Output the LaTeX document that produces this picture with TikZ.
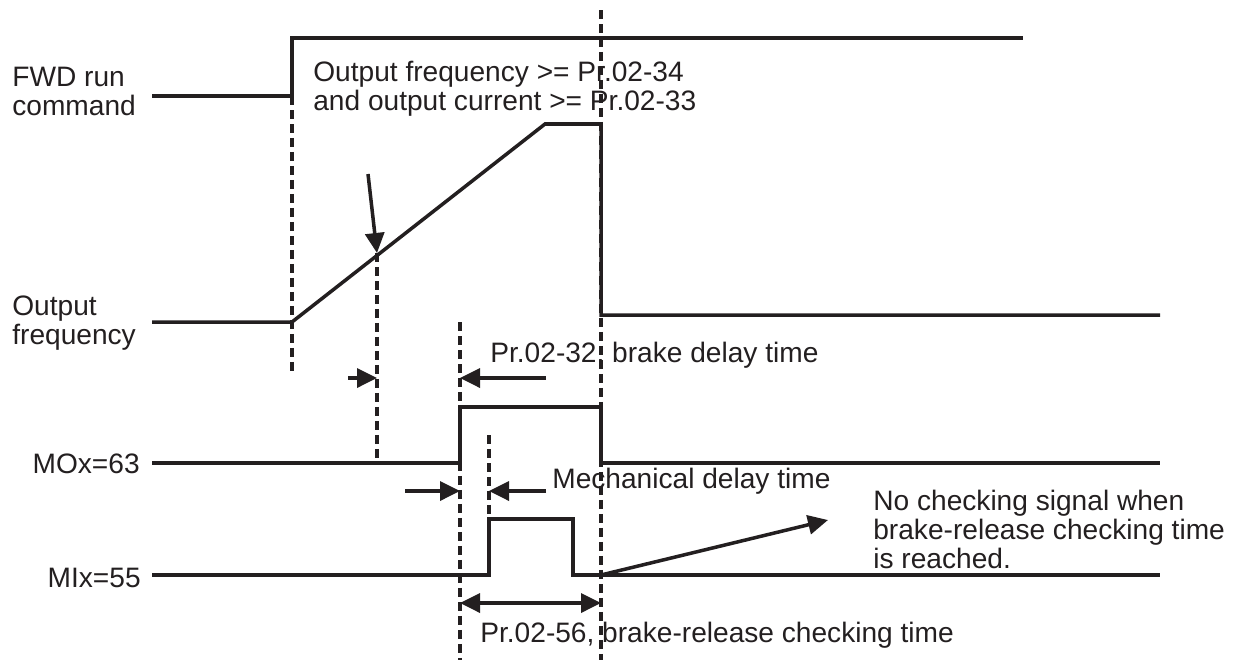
\documentclass[tikz,border=0pt]{standalone}
\usepackage{fontspec}
\setmainfont{Liberation Sans}
\usetikzlibrary{arrows.meta,positioning}
\definecolor{ink}{HTML}{231F20}
\tikzset{>={Triangle[length=.4cm,width=.38cm]},
  every node/.style={font=\fontsize{16}{16.5}\selectfont,text=ink,inner sep=0pt},
  wave/.style={draw=ink,line width=2pt,line join=miter},
  guide/.style={draw=ink,line width=2pt,dash pattern=on .18cm off .1cm},
  dim/.style={->,draw=ink,fill=ink,line width=2pt},
  lbl/.style={anchor=base west,align=left},
  sig/.style={anchor=base east}}

\begin{document}
\begin{tikzpicture}[x=.02cm,y=-.02cm]
\useasboundingbox (0,0) rectangle (1256,660);
% signal names (multi-line: last baseline)
\node[lbl] (fwd) at (12,115) {FWD run\\command};
\node[lbl] (fout) at (12,344) {Output\\frequency};
\node[sig] (mo) at (140,473) {MOx=63};
\node[sig] (mi) at (141,587) {MIx=55};
% waveforms
\draw[wave] (152,96) -- (292,96) -- (292,38) -- (1023,38);
\draw[wave] (152,322) -- (292,322) -- (545,124) -- (601,124) -- (601,315) -- (1160,315);
\draw[wave] (152,463) -- (460,463) -- (460,407) -- (601,407) -- (601,463) -- (1160,463);
\draw[wave] (152,575) -- (489,575) -- (489,519) -- (573,519) -- (573,575) -- (1160,575);
% time marks
\coordinate (run) at (292,96);\coordinate (runEnd) at (292,375);
\coordinate (stop) at (601,10);\coordinate (stopEnd) at (601,660);
\coordinate (hit) at (377,253);\coordinate (hitEnd) at (377,463);
\coordinate (brk) at (460,322);\coordinate (brkEnd) at (460,660);
\coordinate (mech) at (489,435);\coordinate (mechEnd) at (489,519);
\draw[guide] (run)--(runEnd);\draw[guide] (stop)--(stopEnd);\draw[guide] (hit)--(hitEnd);
\draw[guide] (brk)--(brkEnd);\draw[guide] (mech)--(mechEnd);
% arrows
\coordinate (hitTail) at (368,174);
\coordinate (a1) at (348,378);\coordinate (a1e) at (377,378);
\coordinate (a2) at (546,378);\coordinate (a2e) at (460,378);
\coordinate (a3) at (405,491);\coordinate (a3e) at (460,491);
\coordinate (a4) at (546,491);\coordinate (a4e) at (489,491);
\coordinate (a5) at (460,603);\coordinate (a5e) at (601,603);
\coordinate (miStop) at (601,575);\coordinate (nochk) at (828,520);
\draw[dim] (hitTail)--(hit);
\draw[dim] (a1)--(a1e);\draw[dim] (a2)--(a2e);
\draw[dim] (a3)--(a3e);\draw[dim] (a4)--(a4e);
\draw[dim,<->] (a5)--(a5e);
\draw[dim] (miStop)--(nochk);
% notes
\node[lbl] (cond) at (313,110) {Output frequency >= Pr.02-34\\and output current >= Pr.02-33};
\node[lbl] (bdly) at (490,362) {Pr.02-32, brake delay time};
\node[lbl] (mdly) at (552,488) {Mechanical delay time};
\node[lbl] (nosig) at (873,568) {No checking signal when\\brake-release checking time\\is reached.};
\node[lbl] (bchk) at (480,642) {Pr.02-56, brake-release checking time};
\end{tikzpicture}
\end{document}
